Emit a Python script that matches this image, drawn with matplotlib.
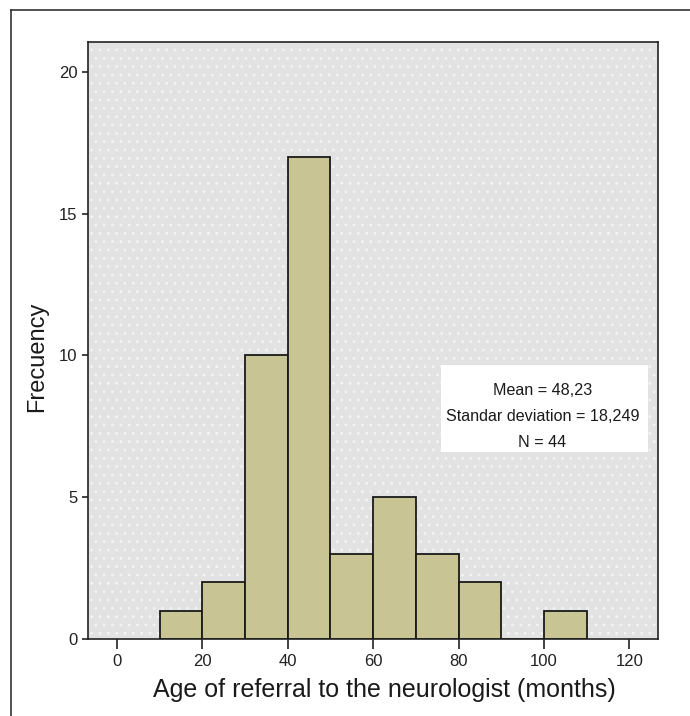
import matplotlib.pyplot as plt
from matplotlib.patches import Rectangle
from matplotlib.lines import Line2D
import numpy as np

plt.rcParams['font.family'] = ['Liberation Sans', 'DejaVu Sans']
plt.rcParams['hatch.linewidth'] = 0.8

# histogram data (bin edges in months, counts per bin)
bin_edges = [10, 20, 30, 40, 50, 60, 70, 80, 90, 100, 110]
counts = [1, 2, 10, 17, 3, 5, 3, 2, 0, 1]
x_ticks = [0, 20, 40, 60, 80, 100, 120]
y_ticks = [0, 5, 10, 15, 20]
stats_lines = ['Mean = 48,23', 'Standar deviation = 18,249', 'N = 44']

fig = plt.figure(figsize=(6.9, 7.16), dpi=100)
ax = fig.add_axes([0.1275, 0.1075, 0.826, 0.834])

# dotted grey plotting background
ax.set_facecolor('#e2e2e2')
bg = Rectangle((0, 0), 1, 1, transform=ax.transAxes, facecolor='none',
               edgecolor='#f4f4f4', hatch='..', linewidth=0, zorder=0)
ax.add_patch(bg)

lefts = np.array(bin_edges[:-1])
widths = np.diff(bin_edges)
ax.bar(lefts, counts, width=widths, align='edge', color='#c8c493',
       edgecolor='#1a1a1a', linewidth=1.3, zorder=2)

ax.set_xlim(-6.8, 126.7)
ax.set_ylim(0, 21.06)
ax.set_xticks(x_ticks)
ax.set_yticks(y_ticks)

for s in ax.spines.values():
    s.set_color('#222222')
    s.set_linewidth(1.2)

ax.tick_params(axis='y', direction='out', length=4.5, width=1.2, pad=3,
               labelsize=12, colors='#222222')
ax.tick_params(axis='x', direction='out', length=7.5, width=1.2, pad=3,
               labelsize=12, colors='#222222')

ax.set_xlabel('Age of referral to the neurologist (months)', fontsize=18, color='#1a1a1a')
ax.set_ylabel('Frecuency', fontsize=17, color='#1a1a1a')
ax.xaxis.set_label_coords(0.52, -0.066)
ax.yaxis.set_label_coords(-0.070, 0.472)

# statistics box
box = Rectangle((0.6193, 0.3125), 0.3632, 0.1457, transform=ax.transAxes,
                facecolor='white', edgecolor='none', zorder=3)
ax.add_patch(box)
for i, line in enumerate(stats_lines):
    ax.text(0.7975, 0.4166 - i * 0.0436, line, transform=ax.transAxes,
            ha='center', va='center', fontsize=11.6, color='#1a1a1a', zorder=4)

# outer frame (left and top edges)
fig.add_artist(Line2D([11 / 690, 11 / 690], [0, 1 - 10 / 716], transform=fig.transFigure,
                      color='#333333', linewidth=1.2))
fig.add_artist(Line2D([11 / 690, 1], [1 - 10 / 716, 1 - 10 / 716], transform=fig.transFigure,
                      color='#333333', linewidth=1.2))

fig.savefig('out.png', dpi=100)
